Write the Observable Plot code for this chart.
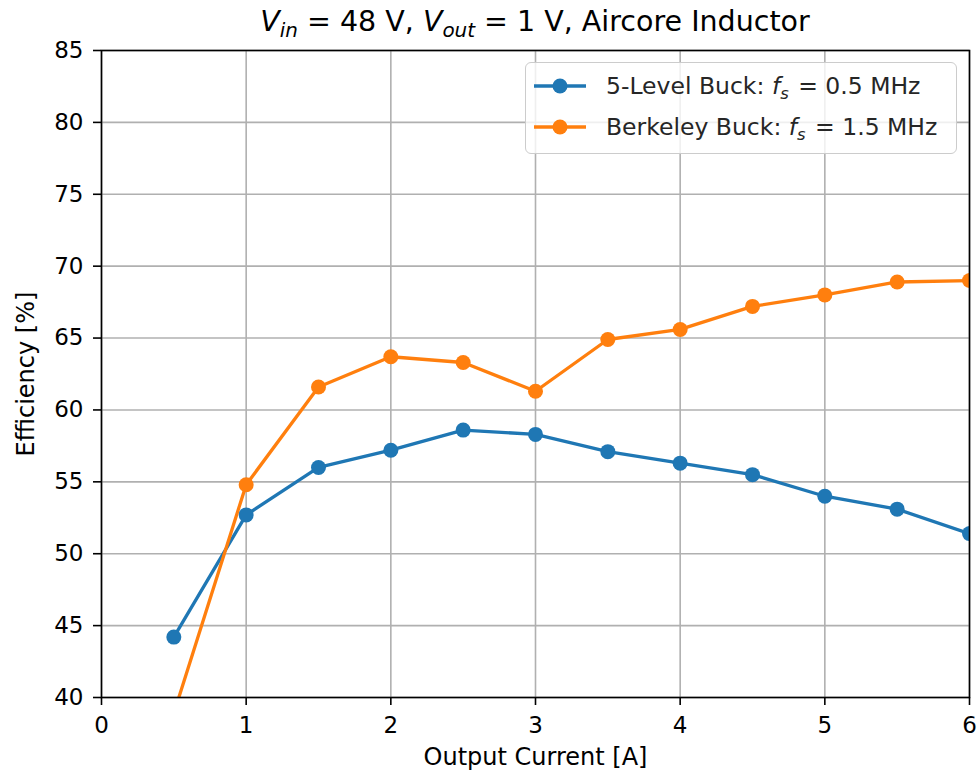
<!DOCTYPE html>
<html>
<head>
<meta charset="utf-8">
<script src="https://cdn.jsdelivr.net/npm/d3@7"></script>
<script src="https://cdn.jsdelivr.net/npm/@observablehq/plot@0.6"></script>
<style>
  html, body { margin: 0; padding: 0; background: #fff; }
  #wrap { position: relative; width: 979px; height: 771px; font-family: "DejaVu Sans", sans-serif; color: #000; }
  #title { position: absolute; left: 101px; width: 868px; top: 8px; text-align: center; font-size: 28.5px; line-height: 28.5px; white-space: nowrap; }
  .sub { position: relative; top: 0.28em; font-size: 0.7em; line-height: 0; }
  #legend { position: absolute; left: 525px; top: 62px; width: 432px; height: 92px; box-sizing: border-box;
            border: 1.6px solid #cccccc; border-radius: 6px; background: rgba(255,255,255,0.8); }
  .row { position: absolute; left: 0; height: 30px; width: 100%; }
  .row > svg { position: absolute; left: 7px; top: 0; }
  .row > .lab { position: absolute; left: 80px; top: 0; font-size: 23.5px; line-height: 30px; color: #262626; white-space: nowrap; }
  .lab .subl { position: relative; top: 0.28em; font-size: 0.7em; line-height: 0; margin-right: 0.12em; }
</style>
</head>
<body>
<div id="wrap">
  <div id="chart"></div>
  <div id="title"><i>V</i><span class="sub"><i>in</i></span> = 48 V, <i>V</i><span class="sub"><i>out</i></span> = 1 V, Aircore Inductor</div>
  <div id="legend"></div>
</div>
<script>
const current = [0.5, 1, 1.5, 2, 2.5, 3, 3.5, 4, 4.5, 5, 5.5, 6];
const fiveLevel = [44.2, 52.7, 56.0, 57.2, 58.6, 58.3, 57.1, 56.3, 55.5, 54.0, 53.1, 51.4];
const berkeley = [38.9, 54.8, 61.6, 63.7, 63.3, 61.3, 64.9, 65.6, 67.2, 68.0, 68.9, 69.0];
const seriesNames = ["5-Level Buck", "Berkeley Buck"];
const seriesFreq = ["0.5 MHz", "1.5 MHz"];
const seriesColors = ["#1f77b4", "#ff7f0e"];
const xTicks = [0, 1, 2, 3, 4, 5, 6];
const yTicks = [40, 45, 50, 55, 60, 65, 70, 75, 80, 85];
const xLabel = "Output Current [A]";
const yLabel = "Efficiency [%]";

const data = [];
[fiveLevel, berkeley].forEach((vals, s) => {
  vals.forEach((v, i) => data.push({series: seriesNames[s], x: current[i], y: v}));
});

const chart = Plot.plot({
  width: 979,
  height: 771,
  marginTop: 50,
  marginRight: 10,
  marginBottom: 74,
  marginLeft: 101,
  style: {fontFamily: "DejaVu Sans, sans-serif", fontSize: "23px", color: "#000", background: "#fff"},
  x: {domain: [0, 6], ticks: xTicks},
  y: {domain: [40, 85], ticks: yTicks},
  color: {domain: seriesNames, range: seriesColors},
  marks: [
    Plot.gridX(xTicks, {stroke: "#b0b0b0", strokeOpacity: 1, strokeWidth: 1.6}),
    Plot.gridY(yTicks, {stroke: "#b0b0b0", strokeOpacity: 1, strokeWidth: 1.6}),
    Plot.axisX({ticks: xTicks, tickFormat: d3.format("d"), tickSize: 8, tickPadding: 11, fontSize: 23, label: null, strokeWidth: 1.6}),
    Plot.axisY({ticks: yTicks, tickFormat: d3.format("d"), tickSize: 8, tickPadding: 10, fontSize: 23, label: null, strokeWidth: 1.6}),
    Plot.line(data, {x: "x", y: "y", z: "series", stroke: "series", strokeWidth: 3.3, clip: true}),
    Plot.dot(data, {x: "x", y: "y", fill: "series", r: 7.5, stroke: null, clip: true}),
    Plot.frame({stroke: "#000", strokeWidth: 1.6}),
    Plot.text([xLabel], {text: d => d, frameAnchor: "bottom", textAnchor: "middle", lineAnchor: "top", dy: 50, fontSize: 24, fill: "#000"}),
    Plot.text([yLabel], {text: d => d, frameAnchor: "left", textAnchor: "middle", rotate: -90, lineAnchor: "top", dx: -85, fontSize: 24, fill: "#000"})
  ]
});
document.getElementById("chart").appendChild(chart);

const legend = document.getElementById("legend");
seriesNames.forEach((name, i) => {
  const row = document.createElement("div");
  row.className = "row";
  row.style.top = (i === 0 ? 8 : 49) + "px";
  const c = seriesColors[i];
  row.innerHTML =
    `<svg width="54" height="30"><line x1="1" y1="15" x2="53" y2="15" stroke="${c}" stroke-width="3.3"/>` +
    `<circle cx="27" cy="15" r="7.5" fill="${c}"/></svg>` +
    `<span class="lab">${name}: <i>f</i><span class="subl"><i>s</i></span> = ${seriesFreq[i]}</span>`;
  legend.appendChild(row);
});
</script>
</body>
</html>
